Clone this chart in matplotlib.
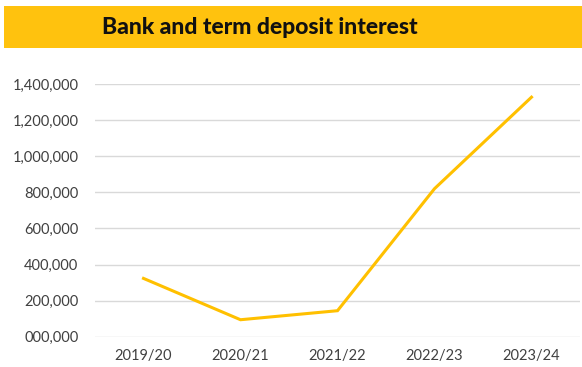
import matplotlib
matplotlib.use("Agg")
import matplotlib.pyplot as plt
from matplotlib.patches import Rectangle

years = ["2019/20", "2020/21", "2021/22", "2022/23", "2023/24"]
interest = [323000, 94000, 144000, 820000, 1327000]
y_ticks = [0, 200000, 400000, 600000, 800000, 1000000, 1200000, 1400000]
y_tick_labels = ["000,000", "200,000", "400,000", "600,000", "800,000",
                 "1,000,000", "1,200,000", "1,400,000"]
title = "Bank and term deposit interest"

W, H = 582, 367
fig = plt.figure(figsize=(W / 100, H / 100), dpi=100)

# title banner
fig.patches.append(Rectangle((4 / W, 1 - 48 / H), (582 - 4) / W, 42 / H,
                             transform=fig.transFigure, facecolor="#FFC20E",
                             edgecolor="none", zorder=0))
fig.text(260 / W, 1 - 28 / H, title, ha="center", va="center",
         fontsize=16.5, fontweight=900, family="Lato", color="#111111")

ax = fig.add_axes([95 / W, 1 - 336.7 / H, (580 - 95) / W, (336.7 - 84) / H])
x = range(len(years))
ax.plot(x, interest, color="#FFC000", lw=2.2, solid_joinstyle="miter", zorder=3)
ax.set_xlim(-0.5, len(years) - 0.5)
ax.set_ylim(0, 1400000)
ax.set_yticks(y_ticks)
ax.set_yticklabels(y_tick_labels)
ax.set_xticks(list(x))
ax.set_xticklabels(years)
ax.grid(axis="y", color="#D9D9D9", lw=1.0)
ax.set_axisbelow(True)
for s in ax.spines.values():
    s.set_visible(False)
ax.tick_params(axis="both", length=0, labelsize=10.5, colors="#404040",
               labelfontfamily="Lato")
ax.tick_params(axis="y", pad=12)
ax.tick_params(axis="x", pad=9)

fig.savefig("out.png", dpi=100)
